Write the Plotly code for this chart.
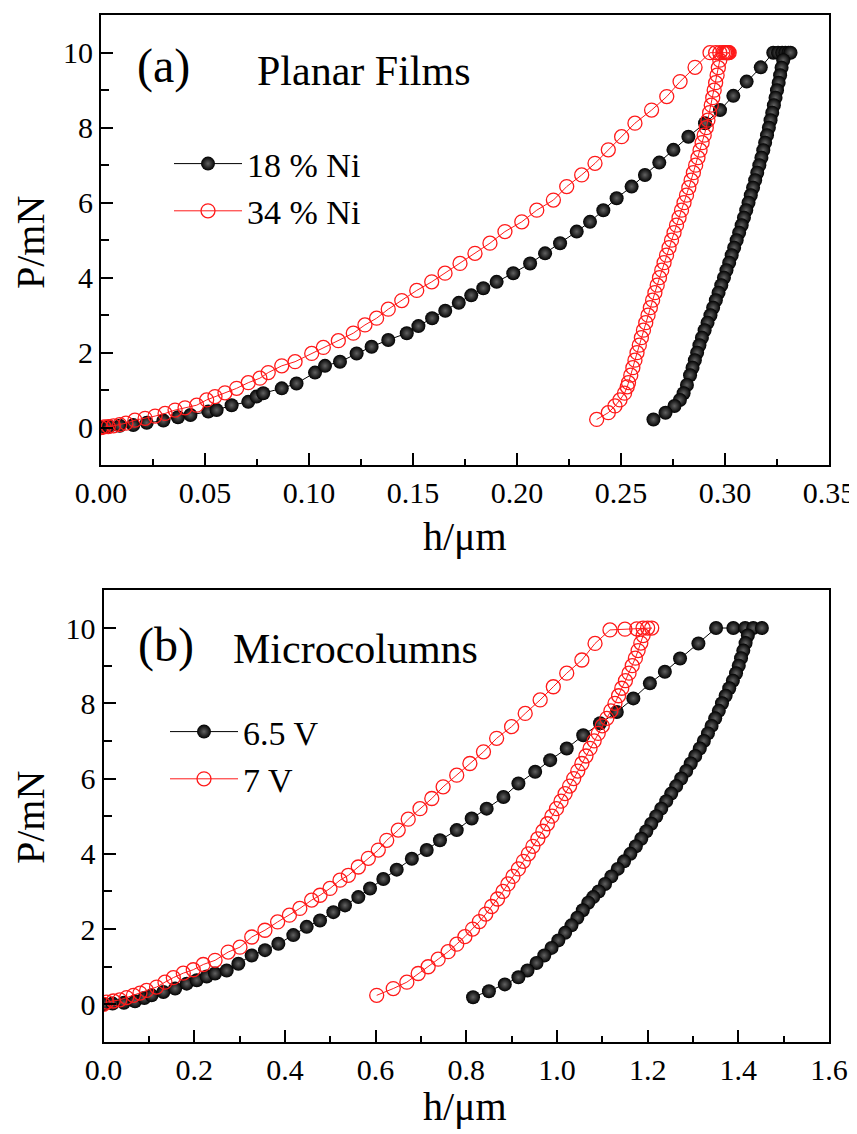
import plotly.graph_objects as go

# ---------------- Panel (a): Planar films ----------------
a18_load_h = [0.000, 0.004, 0.009, 0.0155, 0.022, 0.030, 0.037, 0.043, 0.0516, 0.0556, 0.0628, 0.0708, 0.0748, 0.078,
              0.0869, 0.094, 0.1029, 0.1077, 0.1149, 0.1229, 0.1301, 0.1381, 0.147, 0.1526, 0.1592, 0.1655, 0.172,
              0.178, 0.1838, 0.1902, 0.1982, 0.2063, 0.2135, 0.2207, 0.2287, 0.2351, 0.2415, 0.2479, 0.2551, 0.2615,
              0.2684, 0.2752, 0.2824, 0.2904, 0.2976, 0.304, 0.3104, 0.3172, 0.3232, 0.3255, 0.3275, 0.329, 0.3305,
              0.3315]
a18_load_P = [0.00, 0.03, 0.05, 0.07, 0.13, 0.19, 0.28, 0.34, 0.43, 0.47, 0.60, 0.69, 0.83, 0.92, 1.05, 1.18, 1.47,
              1.65, 1.76, 1.98, 2.16, 2.34, 2.52, 2.71, 2.92, 3.12, 3.33, 3.53, 3.72, 3.89, 4.12, 4.38, 4.65, 4.92,
              5.23, 5.49, 5.80, 6.12, 6.43, 6.74, 7.07, 7.41, 7.76, 8.12, 8.47, 8.85, 9.23, 9.61, 10.0, 10.0, 10.0,
              10.0, 10.0, 10.0]
a18_unl_h = [0.3280, 0.3272, 0.3265, 0.3258, 0.3250, 0.3243, 0.3235, 0.3227, 0.3219, 0.3211, 0.3202, 0.3193, 0.3184,
             0.3175, 0.3165, 0.3155, 0.3145, 0.3135, 0.3124, 0.3113, 0.3102, 0.3091, 0.3080, 0.3068, 0.3056, 0.3044,
             0.3032, 0.3020, 0.3007, 0.2995, 0.2982, 0.2969, 0.2956, 0.2943, 0.2930, 0.2916, 0.2902, 0.2889, 0.2877,
             0.2866, 0.2855, 0.2844, 0.2832, 0.2817, 0.2801, 0.2783, 0.2757, 0.2714, 0.2656]
a18_unl_P = [9.8, 9.6, 9.4, 9.2, 9.0, 8.8, 8.6, 8.4, 8.2, 8.0, 7.8, 7.6, 7.4, 7.2, 7.0, 6.8, 6.6, 6.4, 6.2, 6.0,
             5.8, 5.6, 5.4, 5.2, 5.0, 4.8, 4.6, 4.4, 4.2, 4.0, 3.8, 3.6, 3.4, 3.2, 3.0, 2.8, 2.6, 2.4, 2.2, 2.0,
             1.8, 1.6, 1.4, 1.14, 0.92, 0.74, 0.58, 0.40, 0.22]

a34_load_h = [0.000, 0.0015, 0.0035, 0.006, 0.009, 0.012, 0.0163, 0.0212, 0.026, 0.0308, 0.0356, 0.0404, 0.046,
              0.0508, 0.0548, 0.0596, 0.0652, 0.0708, 0.0764, 0.0804, 0.0869, 0.0933, 0.1013, 0.1069, 0.1141, 0.1213,
              0.1269, 0.1325, 0.1381, 0.1446, 0.1518, 0.159, 0.1654, 0.1726, 0.1798, 0.187, 0.1942, 0.2023, 0.2095,
              0.2175, 0.2239, 0.2311, 0.2375, 0.2439, 0.2503, 0.2567, 0.2647, 0.272, 0.2784, 0.2856, 0.2928, 0.2955,
              0.2975, 0.299, 0.2998, 0.3004, 0.3008, 0.3012, 0.3016, 0.302]
a34_load_P = [0.00, 0.02, 0.03, 0.05, 0.08, 0.12, 0.20, 0.25, 0.31, 0.38, 0.47, 0.53, 0.60, 0.74, 0.83, 0.93, 1.05,
              1.20, 1.32, 1.47, 1.65, 1.76, 1.98, 2.14, 2.32, 2.52, 2.74, 2.92, 3.16, 3.39, 3.66, 3.89, 4.12, 4.38,
              4.65, 4.92, 5.23, 5.49, 5.80, 6.07, 6.43, 6.74, 7.05, 7.41, 7.76, 8.12, 8.47, 8.83, 9.23, 9.61, 10.0,
              10.0, 10.0, 10.0, 10.0, 10.0, 10.0, 10.0, 10.0, 10.0]
a34_unl_h = [0.2975, 0.2968, 0.2962, 0.2955, 0.2948, 0.2941, 0.2934, 0.2926, 0.2918, 0.2910, 0.2900, 0.2890, 0.2880,
             0.2870, 0.2859, 0.2848, 0.2837, 0.2826, 0.2815, 0.2803, 0.2791, 0.2779, 0.2767, 0.2755, 0.2743, 0.2731,
             0.2719, 0.2707, 0.2696, 0.2685, 0.2674, 0.2663, 0.2652, 0.2641, 0.2630, 0.2619, 0.2608, 0.2598, 0.2588,
             0.2577, 0.2567, 0.2557, 0.2547, 0.2536, 0.2530, 0.2517, 0.2495, 0.2471, 0.2439, 0.2383]
a34_unl_P = [9.8, 9.6, 9.4, 9.2, 9.0, 8.8, 8.6, 8.4, 8.2, 8.0, 7.8, 7.6, 7.4, 7.2, 7.0, 6.8, 6.6, 6.4, 6.2, 6.0,
             5.8, 5.6, 5.4, 5.2, 5.0, 4.8, 4.6, 4.4, 4.2, 4.0, 3.8, 3.6, 3.4, 3.2, 3.0, 2.8, 2.6, 2.4, 2.2, 2.0,
             1.8, 1.6, 1.4, 1.2, 1.09, 0.92, 0.74, 0.58, 0.40, 0.22]

# ---------------- Panel (b): Microcolumns ----------------
b65_load_h = [0.0, 0.02, 0.045, 0.0695, 0.09, 0.106, 0.132, 0.158, 0.1835, 0.2056, 0.2276, 0.246, 0.2717, 0.2974,
              0.3268, 0.3562, 0.3856, 0.4186, 0.4481, 0.4775, 0.5069, 0.5326, 0.562, 0.5878, 0.6171, 0.6466, 0.68,
              0.7128, 0.742, 0.779, 0.812, 0.845, 0.882, 0.915, 0.952, 0.985, 1.0216, 1.058, 1.095, 1.132, 1.1685,
              1.205, 1.238, 1.2715, 1.312, 1.351, 1.389, 1.415, 1.433, 1.452]
b65_load_P = [0.0, 0.02, 0.04, 0.08, 0.17, 0.24, 0.33, 0.42, 0.55, 0.64, 0.74, 0.82, 0.9, 1.08, 1.3, 1.44, 1.61,
              1.84, 2.06, 2.23, 2.45, 2.63, 2.85, 3.08, 3.33, 3.58, 3.87, 4.1, 4.36, 4.63, 4.94, 5.2, 5.51, 5.87,
              6.18, 6.49, 6.8, 7.15, 7.47, 7.77, 8.13, 8.53, 8.84, 9.19, 9.59, 10.0, 10.0, 10.0, 10.0, 10.0]
b65_unl_h = [1.421, 1.416, 1.411, 1.406, 1.401, 1.395, 1.388, 1.380, 1.372, 1.364, 1.357, 1.349, 1.341, 1.333, 1.324,
             1.315, 1.305, 1.295, 1.285, 1.274, 1.263, 1.252, 1.241, 1.230, 1.219, 1.208, 1.197, 1.186, 1.174, 1.162,
             1.148, 1.134, 1.120, 1.106, 1.092, 1.080, 1.069, 1.057, 1.045, 1.032, 1.018, 1.003, 0.988, 0.972, 0.955,
             0.935, 0.915, 0.885, 0.850, 0.815]
b65_unl_P = [9.8, 9.6, 9.4, 9.2, 9.0, 8.8, 8.6, 8.4, 8.2, 8.0, 7.8, 7.6, 7.4, 7.2, 7.0, 6.8, 6.6, 6.4, 6.2, 6.0,
             5.8, 5.6, 5.4, 5.2, 5.0, 4.8, 4.6, 4.4, 4.2, 4.0, 3.8, 3.6, 3.4, 3.2, 3.0, 2.85, 2.7, 2.5, 2.3, 2.1,
             1.9, 1.7, 1.5, 1.3, 1.1, 0.9, 0.72, 0.53, 0.35, 0.19]

b7_load_h = [0.0, 0.007, 0.0216, 0.036, 0.051, 0.066, 0.0805, 0.095, 0.117, 0.1356, 0.154, 0.176, 0.198, 0.22, 0.246,
             0.275, 0.301, 0.327, 0.356, 0.384, 0.41, 0.433, 0.459, 0.4775, 0.4995, 0.5216, 0.54, 0.562, 0.584, 0.606,
             0.6246, 0.65, 0.672, 0.698, 0.724, 0.749, 0.779, 0.808, 0.838, 0.867, 0.9, 0.93, 0.963, 0.992, 1.0216,
             1.055, 1.084, 1.117, 1.15, 1.176, 1.19, 1.2, 1.209]
b7_load_P = [0.0, 0.06, 0.09, 0.12, 0.18, 0.24, 0.3, 0.37, 0.46, 0.59, 0.71, 0.83, 0.92, 1.06, 1.17, 1.39, 1.52, 1.79,
             1.97, 2.19, 2.37, 2.55, 2.77, 2.9, 3.08, 3.3, 3.43, 3.65, 3.88, 4.1, 4.36, 4.63, 4.92, 5.2, 5.47, 5.78,
             6.09, 6.4, 6.71, 7.07, 7.38, 7.73, 8.09, 8.44, 8.8, 9.15, 9.59, 9.95, 9.97, 9.98, 10.0, 10.0, 10.0]
b7_unl_h = [1.190, 1.185, 1.179, 1.173, 1.166, 1.159, 1.151, 1.143, 1.136, 1.128, 1.119, 1.110, 1.100, 1.091, 1.082,
            1.073, 1.064, 1.055, 1.046, 1.037, 1.028, 1.018, 1.009, 0.999, 0.989, 0.979, 0.969, 0.958, 0.947, 0.937,
            0.926, 0.915, 0.903, 0.892, 0.881, 0.869, 0.856, 0.843, 0.829, 0.814, 0.797, 0.779, 0.760, 0.738, 0.716,
            0.694, 0.669, 0.639, 0.6025]
b7_unl_P = [9.8, 9.6, 9.4, 9.2, 9.0, 8.8, 8.6, 8.4, 8.2, 8.0, 7.8, 7.6, 7.4, 7.2, 7.0, 6.8, 6.6, 6.4, 6.2, 6.0,
            5.8, 5.6, 5.4, 5.2, 5.0, 4.8, 4.6, 4.4, 4.2, 4.0, 3.8, 3.6, 3.4, 3.2, 3.0, 2.8, 2.6, 2.4, 2.2, 2.0,
            1.8, 1.6, 1.4, 1.2, 1.0, 0.82, 0.59, 0.42, 0.24]

names_a = ["18 % Ni", "34 % Ni"]
names_b = ["6.5 V", "7 V"]

FONT = "Liberation Serif"
W, H = 857, 1134
OFF = 8  # page body margin of the browser
RED = "#ff1a1a"


def px_x(p):
    return (p - OFF) / W


def px_y(p):
    return 1 - (p - OFF) / H


black_marker = dict(symbol="circle", size=14, color="black",
                    gradient=dict(type="radial", color="#626262"), line=dict(width=0))
red_marker = dict(symbol="circle-open", size=14, color=RED, line=dict(width=1.3, color=RED))

fig = go.Figure()
fig.add_trace(go.Scatter(x=a18_load_h + a18_unl_h, y=a18_load_P + a18_unl_P, mode="lines+markers",
                         name=names_a[0], line=dict(color="black", width=1), marker=black_marker,
                         xaxis="x", yaxis="y", legend="legend"))
fig.add_trace(go.Scatter(x=a34_load_h + a34_unl_h, y=a34_load_P + a34_unl_P, mode="lines+markers",
                         name=names_a[1], line=dict(color=RED, width=1), marker=red_marker,
                         xaxis="x", yaxis="y", legend="legend"))
fig.add_trace(go.Scatter(x=b65_load_h + b65_unl_h, y=b65_load_P + b65_unl_P, mode="lines+markers",
                         name=names_b[0], line=dict(color="black", width=1), marker=black_marker,
                         xaxis="x2", yaxis="y2", legend="legend2"))
fig.add_trace(go.Scatter(x=b7_load_h + b7_unl_h, y=b7_load_P + b7_unl_P, mode="lines+markers",
                         name=names_b[1], line=dict(color=RED, width=1), marker=red_marker,
                         xaxis="x2", yaxis="y2", legend="legend2"))

axis_common = dict(showline=True, linewidth=2, linecolor="black", mirror=True, showgrid=False, zeroline=False,
                   ticks="inside", ticklen=12, tickwidth=2, tickcolor="black", automargin=False,
                   tickfont=dict(family=FONT, size=30, color="black"))

fig.update_layout(
    template="none",
    width=W, height=H, autosize=False,
    margin=dict(l=0, r=0, t=0, b=0, pad=0),
    paper_bgcolor="white", plot_bgcolor="white",
    showlegend=True,
    xaxis=dict(domain=[px_x(101), px_x(829)], range=[0, 0.35], tickmode="linear", tick0=0, dtick=0.05,
               tickformat=".2f", anchor="y",
               minor=dict(ticks="inside", ticklen=6, tickwidth=2, tickcolor="black", dtick=0.025, tick0=0),
               **axis_common),
    yaxis=dict(domain=[px_y(465.2), px_y(15.2)], range=[-1, 11], tickmode="linear", tick0=0, dtick=2, anchor="x",
               minor=dict(ticks="inside", ticklen=8, tickwidth=2, tickcolor="black", dtick=1, tick0=0),
               **axis_common),
    xaxis2=dict(domain=[px_x(103.5), px_x(829)], range=[0, 1.6], tickmode="linear", tick0=0, dtick=0.2,
                tickformat=".1f", anchor="y2",
                minor=dict(ticks="inside", ticklen=6, tickwidth=2, tickcolor="black", dtick=0.1, tick0=0),
                **axis_common),
    yaxis2=dict(domain=[px_y(1042), px_y(590.4)], range=[-1, 11], tickmode="linear", tick0=0, dtick=2, anchor="x2",
                minor=dict(ticks="inside", ticklen=8, tickwidth=2, tickcolor="black", dtick=1, tick0=0),
                **axis_common),
    legend=dict(x=px_x(169), y=px_y(135), xanchor="left", yanchor="top", bgcolor="rgba(0,0,0,0)",
                font=dict(family=FONT, size=34, color="black"), tracegroupgap=0, itemwidth=68),
    legend2=dict(x=px_x(165), y=px_y(703), xanchor="left", yanchor="top", bgcolor="rgba(0,0,0,0)",
                 font=dict(family=FONT, size=34, color="black"), tracegroupgap=0, itemwidth=68),
)

annots = [
    dict(text="(a)", x=px_x(135), y=px_y(66), xanchor="left", yanchor="middle", font=dict(size=48)),
    dict(text="Planar Films", x=px_x(255), y=px_y(71), xanchor="left", yanchor="middle", font=dict(size=42)),
    dict(text="(b)", x=px_x(136), y=px_y(645), xanchor="left", yanchor="middle", font=dict(size=48)),
    dict(text="Microcolumns", x=px_x(231), y=px_y(649), xanchor="left", yanchor="middle", font=dict(size=42)),
    dict(text="h/\u03bcm", x=px_x(465), y=px_y(536), xanchor="center", yanchor="middle", font=dict(size=40)),
    dict(text="h/\u03bcm", x=px_x(465), y=px_y(1106), xanchor="center", yanchor="middle", font=dict(size=40)),
    dict(text="P/mN", x=px_x(30), y=px_y(243), xanchor="center", yanchor="middle", textangle=-90,
         font=dict(size=40)),
    dict(text="P/mN", x=px_x(30), y=px_y(818), xanchor="center", yanchor="middle", textangle=-90,
         font=dict(size=40)),
]
for a in annots:
    a.update(xref="paper", yref="paper", showarrow=False)
    a["font"].update(family=FONT, color="black")
fig.update_layout(annotations=annots)

fig.write_html("out.html")
